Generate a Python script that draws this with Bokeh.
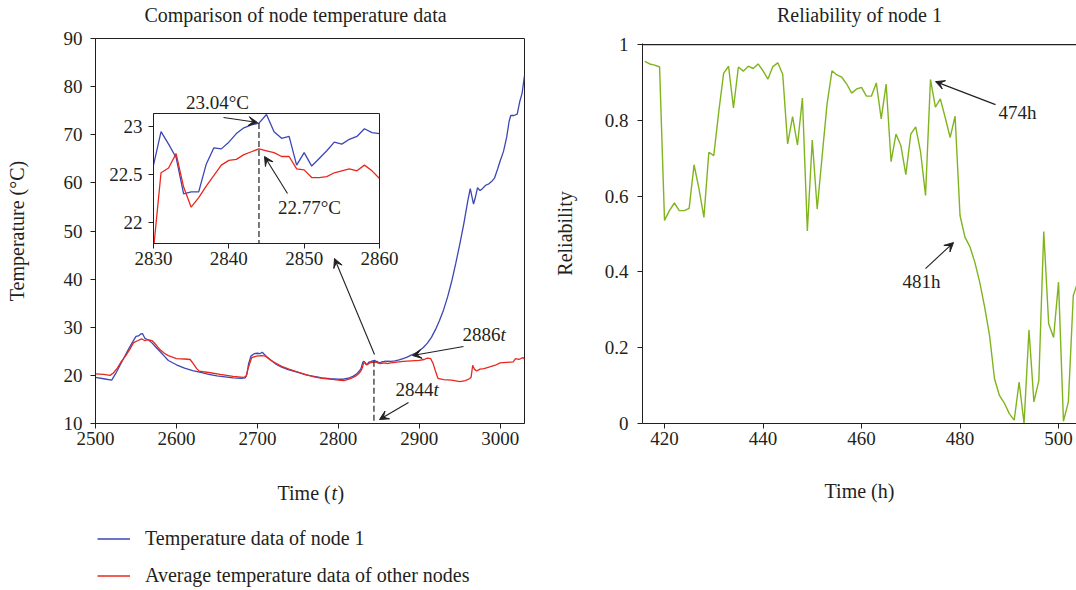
from bokeh.plotting import figure
from bokeh.models import (GridBox, Label, Arrow, VeeHead, Span, Legend, LegendItem,
                          FixedTicker, Range1d)
from bokeh.embed import file_html
from bokeh.resources import INLINE

FONT = "Liberation Serif"
AX = "#231f20"
BLUE = "#3c46b4"
RED = "#e8281e"
GREEN = "#80b41e"

# ---------------- data: left (node temperature) ----------------
blue_pre_t = [2500, 2510, 2520, 2525, 2530, 2535, 2540, 2545, 2550, 2553, 2556, 2558, 2561, 2566, 2570,
              2575, 2580, 2585, 2590, 2600, 2610, 2620, 2630, 2640, 2650, 2660, 2670, 2680, 2685, 2687,
              2689, 2692, 2696, 2700, 2703, 2706, 2709, 2712, 2718, 2724, 2730, 2738, 2750, 2760, 2770,
              2780, 2790, 2800, 2806, 2812, 2818, 2822, 2826, 2828, 2829]
blue_pre_T = [19.6, 19.3, 19.0, 20.4, 22.0, 23.6, 25.2, 26.7, 28.1, 28.2, 28.6, 28.7, 27.7, 27.3, 26.7,
              25.8, 24.9, 24.0, 23.1, 22.2, 21.5, 21.0, 20.6, 20.2, 19.9, 19.7, 19.5, 19.4, 19.5, 20.2,
              22.3, 24.0, 24.5, 24.6, 24.5, 24.8, 24.3, 23.8, 23.0, 22.2, 21.7, 21.2, 20.6, 20.1, 19.8,
              19.5, 19.3, 19.2, 19.2, 19.4, 19.8, 20.2, 20.9, 21.4, 22.0]
blue_post_t = [2865, 2870, 2875, 2880, 2885, 2890, 2895, 2900, 2905, 2910, 2915, 2920, 2925, 2930, 2935,
               2940, 2945, 2950, 2955, 2960, 2963, 2965, 2967, 2969, 2972, 2975, 2978, 2982, 2986, 2990,
               2993, 2997, 3000, 3004, 3008, 3011, 3013, 3017, 3021, 3024, 3027, 3030]
blue_post_T = [22.9, 23.0, 23.2, 23.5, 23.8, 24.2, 24.6, 25.1, 25.8, 26.7, 27.9, 29.5, 31.4, 33.6, 36.3,
               39.5, 43.2, 47.2, 51.5, 56.3, 58.8, 57.2, 55.6, 56.8, 59.0, 58.4, 58.8, 59.5, 59.8, 60.4,
               61.0, 63.0, 64.6, 66.5, 69.5, 72.8, 74.0, 74.0, 74.3, 76.8, 78.6, 82.3]

red_pre_t = [2500, 2510, 2518, 2522, 2527, 2532, 2537, 2542, 2547, 2552, 2557, 2561, 2564, 2570, 2575,
             2580, 2585, 2590, 2595, 2600, 2610, 2617, 2621, 2625, 2628, 2640, 2654, 2670, 2683, 2686,
             2689, 2693, 2699, 2705, 2710, 2716, 2722, 2730, 2739, 2750, 2761, 2770, 2780, 2790, 2800,
             2807, 2815, 2822, 2826, 2828, 2829]
red_pre_T = [20.3, 20.2, 20.0, 20.5, 21.5, 22.9, 24.0, 25.3, 26.8, 27.2, 27.6, 27.2, 27.4, 27.2, 26.3,
             25.3, 24.6, 24.1, 23.8, 23.5, 23.4, 23.3, 22.4, 21.4, 20.9, 20.6, 20.2, 19.8, 19.6, 19.8,
             21.7, 23.7, 24.0, 24.1, 24.0, 23.2, 22.6, 21.9, 21.3, 20.7, 20.1, 19.7, 19.4, 19.2, 19.0,
             18.9, 19.3, 19.9, 20.5, 21.0, 21.3]
red_post_t = [2865, 2870, 2880, 2890, 2900, 2906, 2910, 2914, 2917, 2920, 2923, 2930, 2940, 2950, 2957,
              2962, 2964, 2966, 2968, 2971, 2975, 2980, 2988, 2995, 3000, 3008, 3016, 3019, 3023, 3028, 3030]
red_post_T = [22.6, 22.7, 22.9, 23.0, 23.1, 23.3, 23.6, 23.5, 22.5, 20.9, 19.4, 19.1, 19.0, 18.7, 18.9,
              19.3, 19.6, 22.1, 21.3, 20.9, 21.3, 21.4, 21.8, 22.2, 22.6, 22.7, 22.8, 23.5, 23.3, 23.7, 23.4]

# inset window 2830..2860
inset_t = list(range(2830, 2861))
inset_blue = [22.60, 22.95, 22.82, 22.68, 22.30, 22.32, 22.32, 22.61, 22.78, 22.77, 22.84, 22.93, 22.99,
              23.02, 23.04, 23.13, 22.95, 22.88, 22.90, 22.60, 22.73, 22.59, 22.67, 22.75, 22.84, 22.82,
              22.87, 22.90, 22.98, 22.94, 22.93]
inset_red = [21.72, 22.52, 22.57, 22.72, 22.37, 22.16, 22.26, 22.38, 22.49, 22.60, 22.65, 22.66, 22.71,
             22.74, 22.77, 22.75, 22.73, 22.69, 22.69, 22.56, 22.55, 22.47, 22.47, 22.48, 22.52, 22.54,
             22.56, 22.54, 22.60, 22.54, 22.46]
mark_t = 2844

left_xticks = [2500, 2600, 2700, 2800, 2900, 3000]
left_yticks = [10, 20, 30, 40, 50, 60, 70, 80, 90]
inset_xticks = [2830, 2840, 2850, 2860]
inset_yticks = [22, 22.5, 23]

series_names = ["Temperature data of node 1", "Average temperature data of other nodes"]

# ---------------- data: right (reliability) ----------------
hours = list(range(416, 505))
reliability = [0.956, 0.949, 0.946, 0.941, 0.536, 0.562, 0.582, 0.562, 0.562, 0.568,
               0.683, 0.619, 0.544, 0.716, 0.707, 0.821, 0.924, 0.943, 0.833, 0.941,
               0.930, 0.943, 0.937, 0.949, 0.931, 0.909, 0.942, 0.952, 0.922, 0.738,
               0.810, 0.735, 0.859, 0.508, 0.748, 0.566, 0.705, 0.843, 0.931, 0.920,
               0.914, 0.896, 0.872, 0.883, 0.887, 0.864, 0.864, 0.899, 0.804, 0.896,
               0.691, 0.764, 0.733, 0.657, 0.764, 0.783, 0.716, 0.602, 0.908, 0.835,
               0.857, 0.807, 0.755, 0.811, 0.549, 0.492, 0.467, 0.426, 0.373, 0.307,
               0.232, 0.118, 0.074, 0.054, 0.026, 0.009, 0.109, 0.000, 0.247, 0.057,
               0.113, 0.507, 0.263, 0.227, 0.373, 0.006, 0.057, 0.338, 0.377]
right_xticks = [420, 440, 460, 480, 500]
right_yticks = [0, 0.2, 0.4, 0.6, 0.8, 1]

main_blue_t = blue_pre_t + inset_t + blue_post_t
main_blue_T = blue_pre_T + inset_blue + blue_post_T
main_red_t = red_pre_t + inset_t + red_post_t
main_red_T = red_pre_T + inset_red + red_post_T
blue_at_mark = inset_blue[inset_t.index(mark_t)]


def style(p, tick_size="19px"):
    p.grid.visible = False
    for ax in p.axis:
        ax.axis_line_color = AX
        ax.axis_line_width = 1
        ax.major_tick_line_color = AX
        ax.minor_tick_line_color = None
        ax.major_tick_out = 5
        ax.major_tick_in = 0
        ax.major_label_text_font = FONT
        ax.major_label_text_font_size = tick_size
        ax.major_label_text_color = AX
        ax.axis_label_text_font = FONT
        ax.axis_label_text_font_style = "normal"
        ax.axis_label_text_font_size = "20px"
        ax.axis_label_text_color = AX


def lab(p, x, y, text, size="19px", align="left", style_="normal", xoff=0):
    p.add_layout(Label(x=x, y=y, text=text, text_font=FONT, text_font_size=size,
                       text_align=align, text_baseline="middle", text_color=AX,
                       text_font_style=style_, x_offset=xoff))


def arrow(p, x0, y0, x1, y1):
    p.add_layout(Arrow(end=VeeHead(size=9, fill_color=AX, line_color=AX, line_width=1),
                       x_start=x0, y_start=y0, x_end=x1, y_end=y1,
                       line_color=AX, line_width=1.1))


# ---------------- main left figure ----------------
p = figure(width=540, height=590, x_range=Range1d(2500, 3030), y_range=Range1d(10, 90),
           output_backend="svg", toolbar_location=None, title=None, frame_align=False,
           min_border_left=95, min_border_right=16, min_border_top=38, min_border_bottom=167)
p.outline_line_color = AX
p.outline_line_width = 1
p.border_fill_color = "white"
style(p)
p.xaxis.ticker = FixedTicker(ticks=left_xticks)
p.yaxis.ticker = FixedTicker(ticks=left_yticks)
p.xaxis.major_label_standoff = 3
p.yaxis.major_label_standoff = 8
p.yaxis.axis_label = "Temperature (°C)"
p.yaxis.axis_label_standoff = 33

rb = p.line(main_blue_t, main_blue_T, line_color=BLUE, line_width=1.3)
rr = p.line(main_red_t, main_red_T, line_color=RED, line_width=1.3)
p.segment(x0=[mark_t], y0=[blue_at_mark], x1=[mark_t], y1=[10], line_color=AX,
          line_width=1.2, line_dash="6 3")


def mx(px):
    return 2500 + (px - 95) * 530 / 429


def my(py):
    return 10 + (423 - py) * 80 / 385


arrow(p, mx(463), my(346), mx(412), my(355))
lab(p, mx(462), my(334), "2886", size="19px")
lab(p, mx(462), my(334), "t", size="19px", style_="italic", xoff=38)
arrow(p, mx(408), my(402), mx(379), my(419))
lab(p, mx(395), my(389), "2844", size="19px")
lab(p, mx(395), my(389), "t", size="19px", style_="italic", xoff=38)
arrow(p, mx(374), my(354), mx(334), my(258))

# ---------------- inset figure ----------------
pi = figure(width=300, height=190, x_range=Range1d(2830, 2860), y_range=Range1d(21.78, 23.14),
            output_backend="svg", toolbar_location=None, title=None, frame_align=False,
            min_border_left=53, min_border_right=21, min_border_top=28, min_border_bottom=32)
pi.border_fill_color = None
pi.background_fill_color = "white"
pi.outline_line_color = AX
pi.outline_line_width = 1
style(pi)
pi.xaxis.ticker = FixedTicker(ticks=inset_xticks)
pi.yaxis.ticker = FixedTicker(ticks=inset_yticks)
pi.yaxis.major_label_overrides = {22: "22", 22.5: "22.5", 23: "23"}
pi.xaxis.major_label_standoff = 3
pi.yaxis.major_label_standoff = 6
pi.line(inset_t, inset_blue, line_color=BLUE, line_width=1.3)
pi.line(inset_t, inset_red, line_color=RED, line_width=1.3)
pi.segment(x0=[mark_t], y0=[blue_at_mark], x1=[mark_t], y1=[21.78], line_color=AX,
           line_width=1.2, line_dash="6 3")


def ix(px):
    return 2830 + (px - 153) * 30 / 226


def iy(py):
    return 21.78 + (243 - py) * 1.36 / 130


arrow(pi, ix(223), iy(117), ix(257), iy(122))
lab(pi, ix(309), iy(207), "22.77°C", size="19px", align="center")
arrow(pi, ix(287), iy(193), ix(264), iy(156))

# ---------------- right figure ----------------
pr = figure(width=536, height=590, x_range=Range1d(415.53, 503.65), y_range=Range1d(0, 1.003),
            output_backend="svg", toolbar_location=None, title=None, frame_align=False,
            min_border_left=102, min_border_right=0, min_border_top=43, min_border_bottom=167)
pr.outline_line_color = None
pr.border_fill_color = "white"
style(pr)
pr.xaxis.ticker = FixedTicker(ticks=right_xticks)
pr.yaxis.ticker = FixedTicker(ticks=right_yticks)
pr.yaxis.major_label_overrides = {0: "0", 0.2: "0.2", 0.4: "0.4", 0.6: "0.6", 0.8: "0.8", 1: "1"}
pr.xaxis.major_label_standoff = 3
pr.yaxis.major_label_standoff = 9
pr.xaxis.axis_label = "Time (h)"
pr.xaxis.axis_label_standoff = 32
pr.yaxis.axis_label = "Reliability"
pr.yaxis.axis_label_standoff = 26
pr.add_layout(Span(location=right_yticks[-1], dimension="width", line_color=AX, line_width=1.2))
pr.line(hours, reliability, line_color=GREEN, line_width=1.4)


def rx(px):
    return 415.53 + (px - 642) * 88.12 / 434


def ry(py):
    return (423 - py) / 379


arrow(pr, rx(995), ry(104), rx(935), ry(81))
lab(pr, rx(998), ry(112), "474h", size="19px")
arrow(pr, rx(925), ry(268), rx(953), ry(242))
lab(pr, rx(921), ry(281), "481h", size="19px", align="center")

# ---------------- transparent overlay for texts outside the plot frames ----------------
po = figure(width=1076, height=590, x_range=Range1d(0, 1076), y_range=Range1d(590, 0),
            output_backend="svg", toolbar_location=None, title=None, frame_align=False,
            x_axis_location=None, y_axis_location=None, min_border=0,
            min_border_left=0, min_border_right=0, min_border_top=0, min_border_bottom=0)
po.outline_line_color = None
po.border_fill_color = None
po.background_fill_color = None
po.grid.visible = False

lab(po, 295, 14, "Comparison of node temperature data", size="20px", align="center")
lab(po, 859, 14, "Reliability of node 1", size="20px", align="center")
lab(po, 277, 492, "Time (", size="20px")
lab(po, 331, 492, "t", size="20px", style_="italic")
lab(po, 337, 492, ")", size="20px")
lab(po, 217, 102, "23.04°C", size="19px", align="center")

ob = po.line(main_blue_t, main_blue_T, line_color=BLUE, line_width=1.3, visible=False)
orr = po.line(main_red_t, main_red_T, line_color=RED, line_width=1.3, visible=False)
legend = Legend(items=[LegendItem(label=series_names[0], renderers=[ob]),
                       LegendItem(label=series_names[1], renderers=[orr])],
                location=(97, 3), orientation="vertical", border_line_color=None,
                background_fill_alpha=0, inactive_fill_alpha=0, padding=0, margin=0,
                spacing=14, glyph_width=33, glyph_height=23, label_height=23,
                label_standoff=15, label_text_font=FONT, label_text_font_size="20px",
                label_text_color=AX)
po.add_layout(legend, "center")

layout = GridBox(children=[(p, 0, 0, 3, 3), (pi, 1, 1, 1, 1), (pr, 0, 3, 3, 1), (po, 0, 0, 3, 4)],
                 rows=["85px", "190px", "315px"], cols=["100px", "300px", "140px", "536px"],
                 spacing=0)

open("out.html", "w").write(file_html(layout, INLINE))
